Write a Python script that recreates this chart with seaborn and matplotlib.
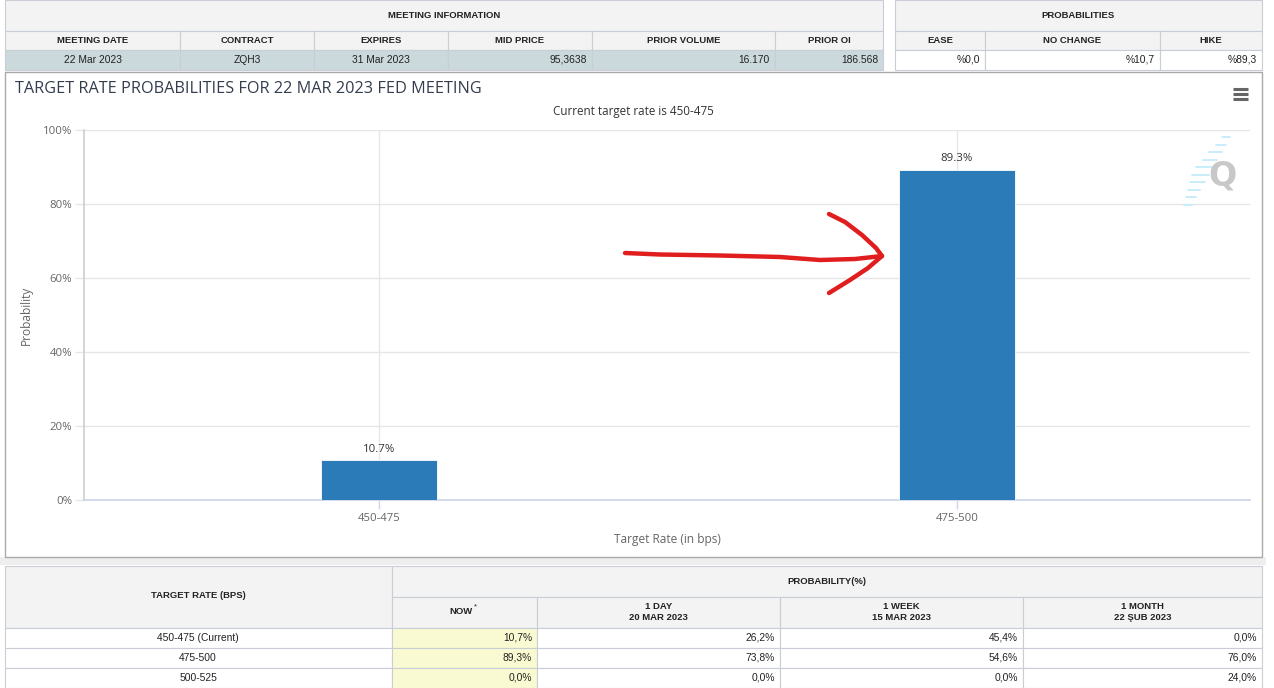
import matplotlib
matplotlib.use("Agg")
import matplotlib.pyplot as plt
import seaborn as sns
from matplotlib.patches import Rectangle
from matplotlib.lines import Line2D

# ---------------- data ----------------
rates = ["450-475", "475-500"]
probs = [10.7, 89.3]
y_ticks = [0, 20, 40, 60, 80, 100]
y_tick_labels = ["0%", "20%", "40%", "60%", "80%", "100%"]

meeting_headers = ["MEETING DATE", "CONTRACT", "EXPIRES", "MID PRICE", "PRIOR VOLUME", "PRIOR OI"]
meeting_values = ["22 Mar 2023", "ZQH3", "31 Mar 2023", "95,3638", "16.170", "186.568"]
meeting_align = ["center", "center", "center", "right", "right", "right"]
prob_headers = ["EASE", "NO CHANGE", "HIKE"]
prob_values = ["%0,0", "%10,7", "%89,3"]

hist_rates = ["450-475 (Current)", "475-500", "500-525"]
hist_cols = ["NOW", "1 DAY\n20 MAR 2023", "1 WEEK\n15 MAR 2023", "1 MONTH\n22 ŞUB 2023"]
hist_now = ["10,7%", "89,3%", "0,0%"]
hist_1day = ["26,2%", "73,8%", "0,0%"]
hist_1week = ["45,4%", "54,6%", "0,0%"]
hist_1month = ["0,0%", "76,0%", "24,0%"]

# ---------------- layout helpers ----------------
W, H = 1274, 688
DPI = 100
sns.set_theme(style="white")
plt.rcParams["font.family"] = ["Open Sans", "DejaVu Sans"]

fig = plt.figure(figsize=(W / DPI, H / DPI), dpi=DPI)
fig.patch.set_facecolor("white")


def px(x0, y0, x1, y1):
    return [x0 / W, 1 - y1 / H, (x1 - x0) / W, (y1 - y0) / H]


bg = fig.add_axes([0, 0, 1, 1], zorder=0)
bg.set_xlim(0, W)
bg.set_ylim(H, 0)
bg.axis("off")

BORDER = "#c9ced6"
HDR = "#f3f3f3"
TFONT = "Liberation Sans"


def cell(x0, y0, x1, y1, fc="white", ec=BORDER, lw=0.8):
    bg.add_patch(Rectangle((x0, y0), x1 - x0, y1 - y0, facecolor=fc,
                           edgecolor=ec, linewidth=lw))


def ttext(x, y, s, ha="center", bold=False, size=6.8, color="#222222"):
    bg.text(x, y, s, ha=ha, va="center", fontsize=size, color=color,
            family=TFONT, fontweight="bold" if bold else "normal",
            linespacing=1.35)


# ---------------- top tables ----------------
left_cols = [5, 180, 314, 448, 592, 775, 883]
cell(5, 0, 883, 31, HDR)
ttext(444, 15, "MEETING INFORMATION", bold=True)
for i, (h, v) in enumerate(zip(meeting_headers, meeting_values)):
    x0, x1 = left_cols[i], left_cols[i + 1]
    cell(x0, 31, x1, 50, HDR)
    ttext((x0 + x1) / 2, 40.5, h, bold=True)
    cell(x0, 50, x1, 70, "#cbd9dc")
    if meeting_align[i] == "center":
        ttext((x0 + x1) / 2, 60, v, size=7.4)
    else:
        ttext(x1 - 5, 60, v, ha="right", size=7.4)

right_cols = [895, 985, 1160, 1262]
cell(895, 0, 1262, 31, HDR)
ttext(1078, 15, "PROBABILITIES", bold=True)
for i, (h, v) in enumerate(zip(prob_headers, prob_values)):
    x0, x1 = right_cols[i], right_cols[i + 1]
    cell(x0, 31, x1, 50, HDR)
    ttext((x0 + x1) / 2, 40.5, h, bold=True)
    cell(x0, 50, x1, 70, "white")
    ttext(x1 - 5, 60, v, ha="right", size=7.4)

# ---------------- chart panel frame ----------------
bg.add_patch(Rectangle((0, 557), 1266, 8, facecolor="#eeeeee", edgecolor="none"))
cell(5, 72, 1262, 557, "white", ec="#a9a9a9", lw=1.0)

# ---------------- bottom table ----------------
cell(5, 566, 392, 628, HDR)
ttext(198, 596, "TARGET RATE (BPS)", bold=True)
cell(392, 566, 1262, 597, HDR)
ttext(827, 581, "PROBABILITY(%)", bold=True)
bcols = [392, 537, 780, 1023, 1262]
for i, h in enumerate(hist_cols):
    x0, x1 = bcols[i], bcols[i + 1]
    cell(x0, 597, x1, 628, HDR)
    if i == 0:
        ttext((x0 + x1) / 2 - 3, 612, h, bold=True)
        bg.text((x0 + x1) / 2 + 11, 607, "*", fontsize=5.5, family=TFONT,
                ha="center", va="center", color="#222222")
    else:
        ttext((x0 + x1) / 2, 612, h, bold=True)
cols_vals = [hist_now, hist_1day, hist_1week, hist_1month]
for r, name in enumerate(hist_rates):
    y0 = 628 + r * 20
    cell(5, y0, 392, y0 + 20, "white")
    ttext(198, y0 + 10, name, size=7.4)
    for c in range(4):
        x0, x1 = bcols[c], bcols[c + 1]
        cell(x0, y0, x1, y0 + 20, "#fafad2" if c == 0 else "white")
        ttext(x1 - 5, y0 + 10, cols_vals[c][r], ha="right", size=7.4)

# ---------------- chart ----------------
ax = fig.add_axes(px(84, 130, 1250, 500), zorder=2)
ax.patch.set_alpha(0)
sns.barplot(x=rates, y=probs, color="#2b7bb8", width=0.2, saturation=1,
            edgecolor="white", linewidth=0.6, ax=ax, zorder=3)
ax.set_xlim(-0.51, 1.507)
ax.set_ylim(0, 100)
ax.set_yticks(y_ticks)
ax.set_yticklabels(y_tick_labels)
ax.grid(True, axis="both", color="#e6e6e6", linewidth=1.0)
ax.set_axisbelow(True)
for s in ["top", "right"]:
    ax.spines[s].set_visible(False)
ax.spines["left"].set_color("#d0d0d0")
ax.spines["bottom"].set_color("#ccd6eb")
ax.tick_params(axis="y", length=6.5, width=1, color="#e6e6e6", pad=2,
               labelsize=8.2, labelcolor="#666666", left=True)
ax.tick_params(axis="x", length=6.5, width=1, color="#ccd6eb", pad=3,
               labelsize=8.2, labelcolor="#666666", bottom=True)
ax.bar_label(ax.containers[0], labels=[f"{v}%" for v in probs], padding=4,
             fontsize=8.2, color="#333333")
ax.set_xlabel("Target Rate (in bps)", fontsize=8.6, color="#666666", labelpad=6)
ax.set_ylabel("Probability", fontsize=8.6, color="#666666", labelpad=7)

fig.text(15 / W, 1 - 89 / H, "TARGET RATE PROBABILITIES FOR 22 MAR 2023 FED MEETING",
         ha="left", va="center", fontsize=11.7, color="#333d4d")
fig.text(633 / W, 1 - 112 / H, "Current target rate is 450-475",
         ha="center", va="center", fontsize=8.4, color="#333333")

# ---------------- overlay decorations ----------------
ov = fig.add_axes([0, 0, 1, 1], zorder=5)
ov.set_xlim(0, W)
ov.set_ylim(H, 0)
ov.axis("off")
ov.patch.set_alpha(0)

# menu icon
for yy in [88.5, 93.5, 98.5]:
    ov.add_line(Line2D([1233, 1248], [yy, yy], color="#666666", linewidth=2.2,
                       solid_capstyle="butt"))

# watermark
for k in range(10):
    t = k / 9
    xr = 1190 + t * 38
    yc = 205 - t * 68
    ln = 6 + 10 * (1 - abs(t - 0.5) * 2)
    ov.add_line(Line2D([xr - ln, xr + 2], [yc, yc], color="#c4ecfb", linewidth=1.3))
ov.text(1222, 176, "Q", fontsize=24, fontweight="bold", color="#c8c8c8",
        ha="center", va="center", family="DejaVu Sans")

# red hand-drawn arrow
red = "#e01e1e"
ov.add_line(Line2D([625, 660, 720, 780, 820, 855, 882],
                   [253, 254.5, 255.5, 257, 260, 259, 256],
                   color=red, linewidth=3.2, solid_capstyle="round",
                   solid_joinstyle="round"))
ov.add_line(Line2D([829, 845, 862, 876, 882, 868, 850, 829],
                   [214, 222, 235, 248, 256, 268, 280, 293],
                   color=red, linewidth=3.2, solid_capstyle="round",
                   solid_joinstyle="round"))

fig.savefig("out.png", dpi=DPI)
